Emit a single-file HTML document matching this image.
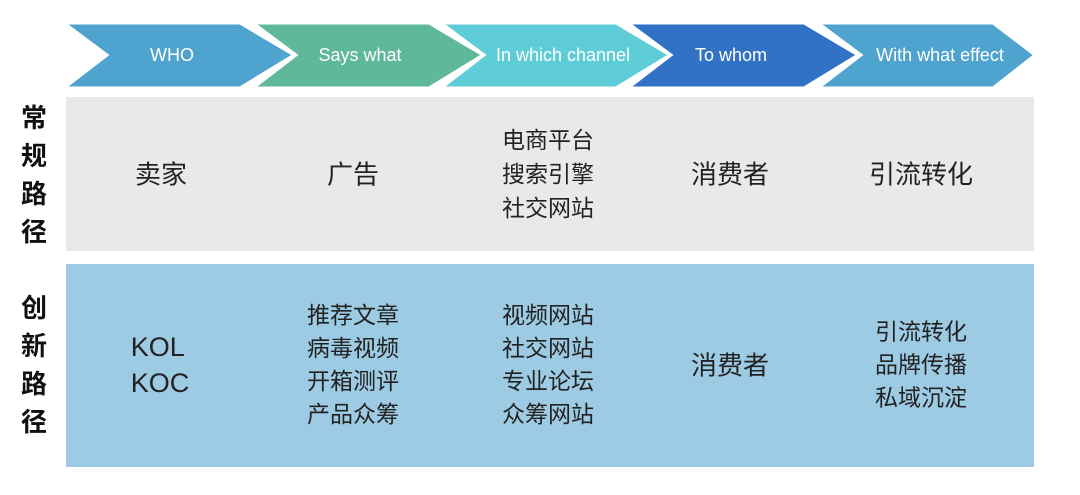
<!DOCTYPE html>
<html><head><meta charset="utf-8"><style>
body{margin:0;width:1080px;height:495px;background:#fff;position:relative;overflow:hidden;font-family:"Liberation Sans","Noto Sans CJK SC",sans-serif}
.t{position:absolute;transform:translate(-50%,-50%);white-space:nowrap;color:#222;text-align:center}
.side{position:absolute;left:20px;width:28px;font-weight:bold;font-size:26px;line-height:38px;text-align:center;color:#111}
</style></head><body>
<svg width="1080" height="495" style="position:absolute;left:0;top:0">
<g font-family="Liberation Sans, sans-serif" font-size="18" fill="#fff" text-anchor="middle">
<g stroke="#fff" stroke-width="3" stroke-linejoin="miter">
<polygon points="64,23 240,23 294,55 240,88 64,88 107,55" fill="#4FA3CF"/>
<polygon points="253,23 429,23 483,55 429,88 253,88 296,55" fill="#5FB89A"/>
<polygon points="441,23 616,23 670,55 616,88 441,88 484,55" fill="#5ECDD8"/>
<polygon points="628,23 804,23 858,55 804,88 628,88 671,55" fill="#3272C6"/>
<polygon points="818,23 993,23 1035,55 993,88 818,88 861,55" fill="#4FA3CF"/>
</g>
<text x="172" y="61">WHO</text>
<text x="360" y="61">Says what</text>
<text x="563" y="61">In which channel</text>
<text x="731" y="61">To whom</text>
<text x="940" y="61">With what effect</text>
</g>
<rect x="66" y="97" width="968" height="154" fill="#E9E9E9"/>
<rect x="66" y="264" width="968" height="203" fill="#9DCBE3"/>
</svg>
<div class="side" style="top:99px">常<br>规<br>路<br>径</div>
<div class="side" style="top:289px">创<br>新<br>路<br>径</div>
<div class="t" style="left:161px;top:173px;font-size:26px">卖家</div>
<div class="t" style="left:353px;top:173px;font-size:26px">广告</div>
<div class="t" style="left:548px;top:174px;font-size:23px;line-height:34px">电商平台<br>搜索引擎<br>社交网站</div>
<div class="t" style="left:730px;top:173px;font-size:26px">消费者</div>
<div class="t" style="left:921px;top:173px;font-size:26px">引流转化</div>
<div class="t" style="left:160px;top:365px;font-size:27px;line-height:36px;text-align:left">KOL<br>KOC</div>
<div class="t" style="left:353px;top:365px;font-size:23px;line-height:33px">推荐文章<br>病毒视频<br>开箱测评<br>产品众筹</div>
<div class="t" style="left:548px;top:365px;font-size:23px;line-height:33px">视频网站<br>社交网站<br>专业论坛<br>众筹网站</div>
<div class="t" style="left:730px;top:364px;font-size:26px">消费者</div>
<div class="t" style="left:921px;top:365px;font-size:23px;line-height:33px">引流转化<br>品牌传播<br>私域沉淀</div>
</body></html>
